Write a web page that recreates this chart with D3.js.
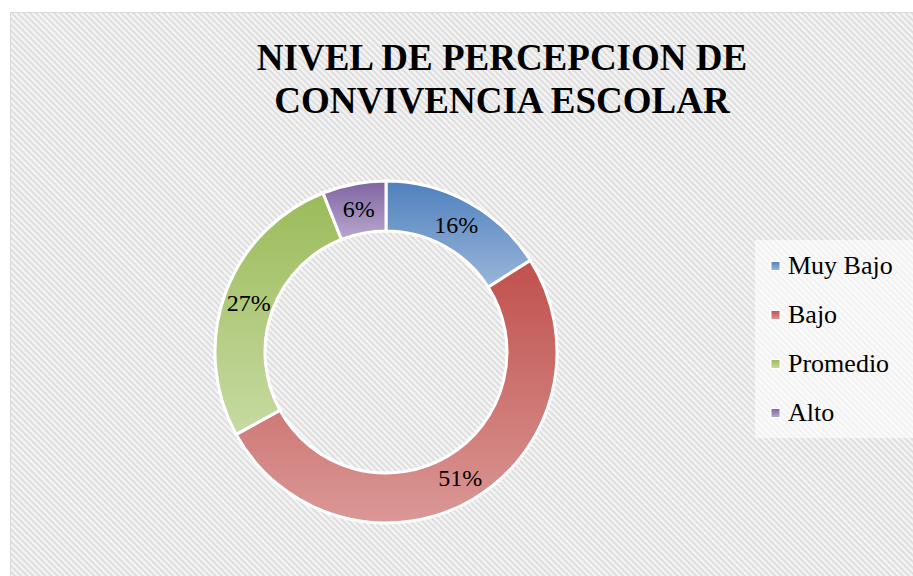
<!DOCTYPE html>
<html>
<head>
<meta charset="utf-8">
<script src="https://cdn.jsdelivr.net/npm/d3@7"></script>
<style>
  body { margin: 0; background: #fff; }
</style>
</head>
<body>
<div id="chart"></div>
<script>
const categories = ["Muy Bajo", "Bajo", "Promedio", "Alto"];
const values = [16, 51, 27, 6];
const labels = ["16%", "51%", "27%", "6%"];
const colorTop = ["#4F81BD", "#C0504D", "#9BBB59", "#8064A2"];
const colorBottom = ["#9AB6DA", "#DA9896", "#C7DAA2", "#B8A8CE"];
const titleLines = ["NIVEL DE PERCEPCION DE", "CONVIVENCIA ESCOLAR"];

const W = 913, H = 576;
const serif = `"Liberation Serif"`;

const svg = d3.select("#chart")
    .append("svg")
    .attr("width", W)
    .attr("height", H);

const defs = svg.append("defs");

// diagonal hatch background
const pat = defs.append("pattern")
    .attr("id", "hatch")
    .attr("patternUnits", "userSpaceOnUse")
    .attr("width", 4.3)
    .attr("height", 4.3)
    .attr("patternTransform", "rotate(45)");
pat.append("rect").attr("width", 4.3).attr("height", 4.3).attr("fill", "#f5f5f5");
pat.append("rect").attr("width", 4.3).attr("height", 2.1).attr("fill", "#dedede");

// per-slice vertical gradient
categories.forEach((c, i) => {
    const g = defs.append("linearGradient")
        .attr("id", "grad" + i)
        .attr("x1", 0).attr("y1", 0)
        .attr("x2", 0).attr("y2", 1);
    g.append("stop").attr("offset", "0%").attr("stop-color", colorTop[i]);
    g.append("stop").attr("offset", "100%").attr("stop-color", colorBottom[i]);
});

svg.append("rect")
    .attr("x", 10.5)
    .attr("y", 12.5)
    .attr("width", W)
    .attr("height", H)
    .attr("fill", "url(#hatch)")
    .attr("stroke", "#d9d9d9")
    .attr("stroke-width", 1);

// title
svg.selectAll("text.title")
    .data(titleLines)
    .enter().append("text")
    .attr("class", "title")
    .attr("x", 502)
    .attr("y", (d, i) => 70 + i * 43)
    .attr("text-anchor", "middle")
    .style("font-family", serif)
    .style("font-size", "37px")
    .style("font-weight", "bold")
    .text(d => d);

// donut
const cx = 386, cy = 352;
const rOuter = 171, rInner = 121;

const pie = d3.pie().sort(null).value(d => d);
const arc = d3.arc().innerRadius(rInner).outerRadius(rOuter);
const arcs = pie(values);

const donut = svg.append("g")
    .attr("transform", `translate(${cx},${cy})`);

donut.selectAll("path")
    .data(arcs)
    .enter().append("path")
    .attr("d", arc)
    .attr("fill", (d, i) => `url(#grad${i})`)
    .attr("stroke", "#fff")
    .attr("stroke-width", 3);

donut.selectAll("text")
    .data(arcs)
    .enter().append("text")
    .attr("transform", d => `translate(${arc.centroid(d)})`)
    .attr("text-anchor", "middle")
    .attr("dy", "0.36em")
    .style("font-family", serif)
    .style("font-size", "24px")
    .attr("fill", "#000")
    .text((d, i) => labels[i]);

// legend
const legend = svg.append("g");
legend.append("rect")
    .attr("x", 755)
    .attr("y", 240)
    .attr("width", 160)
    .attr("height", 198)
    .attr("fill", "#fff")
    .attr("fill-opacity", 0.6);

const yLeg = d3.scalePoint()
    .domain(categories)
    .range([266, 413]);

legend.selectAll("rect.key")
    .data(categories)
    .enter().append("rect")
    .attr("class", "key")
    .attr("x", 771)
    .attr("y", d => yLeg(d) - 4.5)
    .attr("width", 9)
    .attr("height", 9)
    .attr("fill", (d, i) => `url(#grad${i})`)
    .attr("stroke", "#fff")
    .attr("stroke-width", 1);

legend.selectAll("text.leg")
    .data(categories)
    .enter().append("text")
    .attr("class", "leg")
    .attr("x", 788)
    .attr("y", d => yLeg(d) + 8)
    .style("font-family", serif)
    .style("font-size", "26px")
    .attr("fill", "#000")
    .text(d => d);
</script>
</body>
</html>
